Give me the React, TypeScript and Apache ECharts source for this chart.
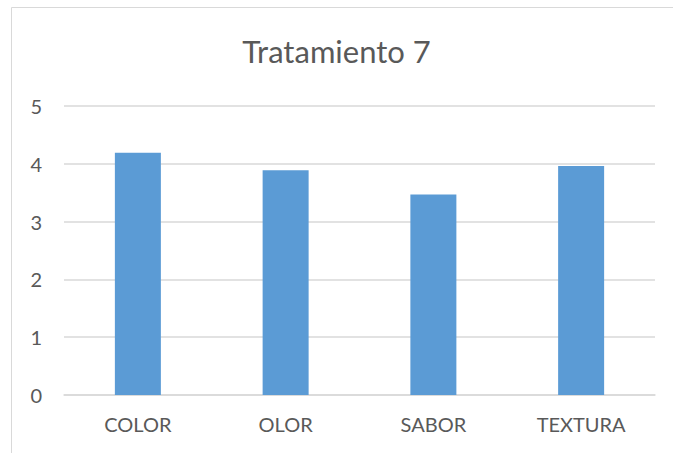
import React, { useEffect, useRef } from "react";
import * as echarts from "echarts";

const categories = ["COLOR", "OLOR", "SABOR", "TEXTURA"];
const values = [4.19, 3.89, 3.47, 3.96];
const titleText = "Tratamiento 7";

export default function App() {
  const ref = useRef<HTMLDivElement>(null);
  useEffect(() => {
    if (!ref.current) return;
    const chart = echarts.init(ref.current, undefined, { renderer: "svg" });
    const font = "Lato, 'Open Sans', sans-serif";
    chart.setOption({
      animation: false,
      backgroundColor: "#ffffff",
      title: {
        text: titleText,
        left: "center",
        top: 30,
        textStyle: { fontFamily: font, fontSize: 31, fontWeight: "normal", color: "#595959" },
      },
      graphic: [
        {
          type: "rect",
          shape: { x: 11.5, y: 7.5, width: 700, height: 500 },
          style: { fill: "none", stroke: "#D9D9D9", lineWidth: 1 },
          silent: true,
        },
      ],
      grid: { left: 64, right: 18, top: 106, bottom: 58 },
      xAxis: {
        type: "category",
        data: categories,
        axisLine: { show: true, lineStyle: { color: "#D9D9D9", width: 1.5 } },
        axisTick: { show: false },
        axisLabel: { color: "#595959", fontFamily: font, fontSize: 20, margin: 19 },
      },
      yAxis: {
        type: "value",
        min: 0,
        max: 5,
        interval: 1,
        axisLine: { show: false },
        axisTick: { show: false },
        splitLine: { lineStyle: { color: "#D9D9D9", width: 1.5 } },
        axisLabel: { color: "#595959", fontFamily: font, fontSize: 20, margin: 22 },
      },
      series: [
        {
          type: "bar",
          data: values,
          barWidth: 46,
          itemStyle: { color: "#5B9BD5" },
        },
      ],
    });
    return () => chart.dispose();
  }, []);
  return (
    <div
      ref={ref}
      style={{ position: "fixed", left: 0, top: 0, width: 673, height: 453 }}
    />
  );
}
